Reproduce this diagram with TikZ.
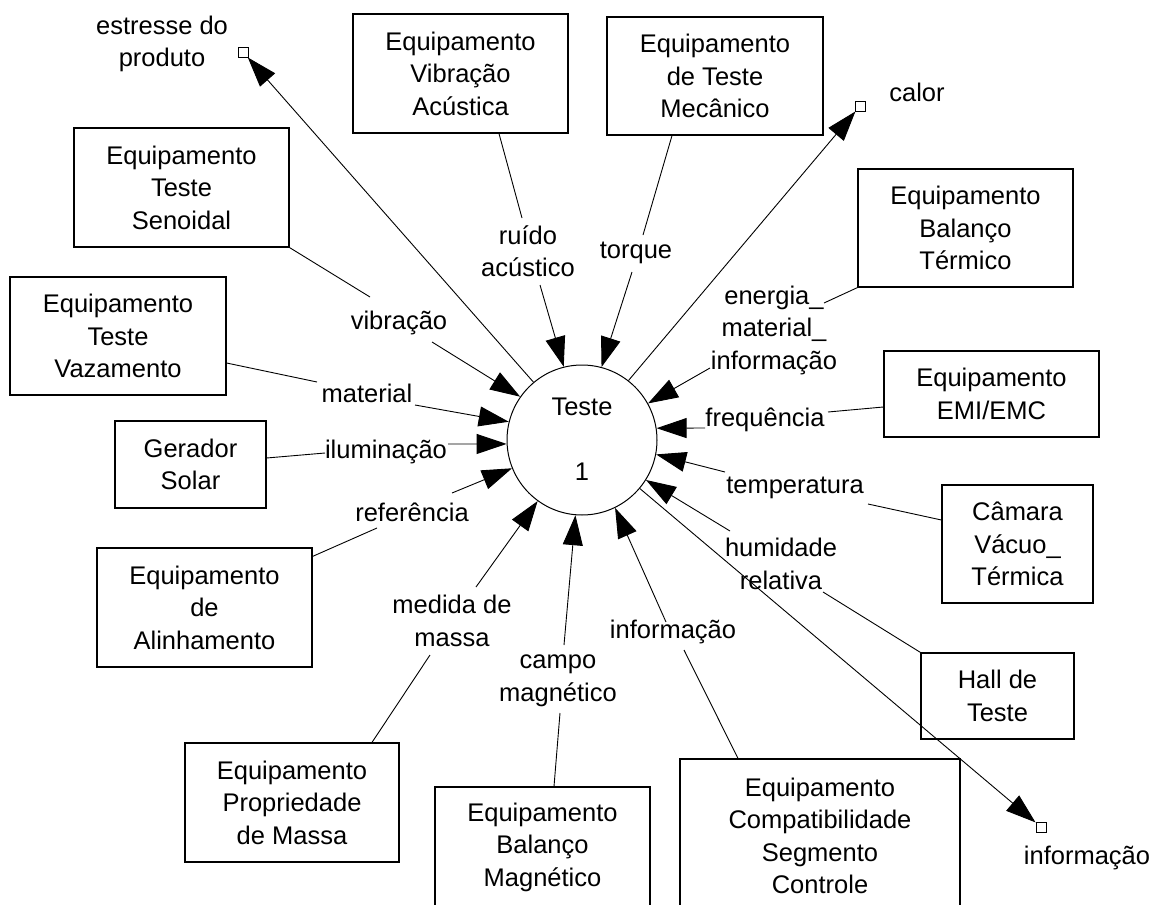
\documentclass[tikz,border=0pt]{standalone}
\usepackage{fontspec}
\setmainfont{Liberation Sans}
\usetikzlibrary{arrows.meta}
\newcommand\dfdfont{\fontsize{25.5}{32.5}\selectfont}
\begin{document}
\begin{tikzpicture}[x=1pt,y=-1pt,
  box/.style={draw,line width=1.2pt,align=center,inner sep=0pt,font=\dfdfont},
  lab/.style={align=center,inner sep=0pt,font=\dfdfont},
  con/.style={line width=0.9pt},
  arr/.style={line width=0.9pt,-{Triangle[length=30pt,width=20pt]}},
  sq/.style={draw,line width=0.9pt,fill=white,minimum size=10pt,inner sep=0pt}]
\useasboundingbox (0,0) rectangle (1152,905);
\clip (0,0) rectangle (1152,905);
\fill[white] (0,0) rectangle (1152,905);

% process
\node[draw,circle,minimum size=150pt,line width=1pt,inner sep=0pt] (t) at (582,440) {};
\node[lab] (tt) at (582,407) {Teste};
\node[lab] (t1) at (582,472) {1};

% boxes
\node[box,minimum width=215pt,minimum height=119pt] (va) at (460.5,73.5) {Equipamento\\Vibração\\Acústica};
\node[box,minimum width=216pt,minimum height=118pt] (mec) at (715,76) {Equipamento\\de Teste\\Mecânico};
\node[box,minimum width=215pt,minimum height=118pt] (bt) at (965.5,228) {Equipamento\\Balanço\\Térmico};
\node[box,minimum width=215pt,minimum height=86pt] (emi) at (991.5,394) {Equipamento\\EMI/EMC};
\node[box,minimum width=151pt,minimum height=118pt] (cam) at (1017.5,544) {Câmara\\Vácuo\_\\Térmica};
\node[box,minimum width=153pt,minimum height=86pt] (hall) at (997.5,696) {Hall de\\Teste};
\node[box,minimum width=280pt,minimum height=154pt] (comp) at (820,836) {Equipamento\\Compatibilidade\\Segmento\\Controle};
\node[box,minimum width=215pt,minimum height=120pt] (bm) at (542.5,847) {Equipamento\\Balanço\\Magnético};
\node[box,minimum width=214pt,minimum height=119pt] (pm) at (292,802.5) {Equipamento\\Propriedade\\de Massa};
\node[box,minimum width=215pt,minimum height=119pt] (al) at (204.5,607.5) {Equipamento\\de\\Alinhamento};
\node[box,minimum width=151pt,minimum height=87pt] (gs) at (190.5,464.5) {Gerador\\Solar};
\node[box,minimum width=216pt,minimum height=118pt] (vz) at (118,336) {Equipamento\\Teste\\Vazamento};
\node[box,minimum width=215pt,minimum height=119pt] (sen) at (181.5,187.5) {Equipamento\\Teste\\Senoidal};

% flow labels
\node[lab] (es) at (162,44) {estresse do\\produto};
\node[lab] (ca) at (917,92) {calor};
\node[lab] (io) at (1087,858) {informação};
\node[lab] (ru) at (528,251) {ruído\\acústico};
\node[lab] (to) at (636,253) {torque};
\node[lab] (en) at (774,330) {energia\_\\material\_\\informação};
\node[lab] (fr) at (765,420) {frequência};
\node[lab] (te) at (795,488) {temperatura};
\node[lab] (hu) at (781,564) {humidade\\relativa};
\node[lab] (vi) at (399,323) {vibração};
\node[lab] (ma) at (367,393) {material};
\node[lab] (il) at (386,452) {iluminação};
\node[lab] (re) at (412,512) {referência};
\node[lab] (me) at (452,621) {medida de\\massa};
\node[lab] (cm) at (558,681) {campo\\magnético};
\node[lab] (im) at (673,632) {informação};

% stores / sinks
\node[sq] (s1) at (243,52) {};
\node[sq] (s2) at (860,106) {};
\node[sq] (s3) at (1041,827) {};

% box to label connectors
\coordinate (ru-a) at (522,218); \draw[con] ([xshift=38.5pt]va.south) -- (ru-a);
\coordinate (to-a) at (643,235); \draw[con] ([xshift=-43pt]mec.south) -- (to-a);
\coordinate (en-a) at (824,303); \draw[con] (bt.south west) -- (en-a);
\coordinate (fr-a) at (828,412); \draw[con] ([yshift=-13pt]emi.west) -- (fr-a);
\coordinate (te-a) at (868,504); \draw[con] ([yshift=24pt]cam.west) -- (te-a);
\coordinate (hu-a) at (823,592); \draw[con] (hall.north west) -- (hu-a);
\coordinate (im-a) at (684,650); \draw[con] ([xshift=-82pt]comp.north) -- (im-a);
\coordinate (cm-a) at (560,713); \draw[con] ([xshift=11.5pt]bm.north) -- (cm-a);
\coordinate (me-a) at (430,655); \draw[con] ([xshift=80pt]pm.north) -- (me-a);
\coordinate (re-a) at (377,528); \draw[con] ([yshift=-9pt]al.north east) -- (re-a);
\coordinate (il-a) at (325,453); \draw[con] ([yshift=6.5pt]gs.east) -- (il-a);
\coordinate (ma-a) at (317,382); \draw[con] ([yshift=-27pt]vz.east) -- (ma-a);
\coordinate (vi-a) at (370,297); \draw[con] (sen.south east) -- (vi-a);

% label to process arrows
\coordinate (ru-b) at (540,285); \draw[arr] (ru-b) -- (t.104.4);
\coordinate (to-b) at (632,272); \draw[arr] (to-b) -- (t.75.6);
\coordinate (en-b) at (710,368); \draw[arr] (en-b) -- (t.29.9);
\coordinate (fr-b) at (705,428); \draw[arr] (fr-b) -- (t.9);
\coordinate (te-b) at (725,472); \draw[arr] (te-b) -- (t.-11.6);
\coordinate (hu-b) at (730,531); \draw[arr] (hu-b) -- (t.-32);
\coordinate (im-b) at (666,622); \draw[arr] (im-b) -- (t.-64.4);
\coordinate (cm-b) at (564,645); \draw[arr] (cm-b) -- (t.-95.3);
\coordinate (me-b) at (476,587); \draw[arr] (me-b) -- (t.-126.4);
\coordinate (re-b) at (452,493); \draw[arr] (re-b) -- (t.-158);
\coordinate (il-b) at (448,444); \draw[arr] (il-b) -- (t.-177);
\coordinate (ma-b) at (415,405); \draw[arr] (ma-b) -- (t.166.9);
\coordinate (vi-b) at (432,342); \draw[arr] (vi-b) -- (t.145.3);

% outgoing flows
\draw[arr] (t.130.8) -- (s1);
\draw[arr] (t.52.4) -- (s2);
\draw[arr] (t.-40.9) -- (s3);
\end{tikzpicture}
\end{document}
